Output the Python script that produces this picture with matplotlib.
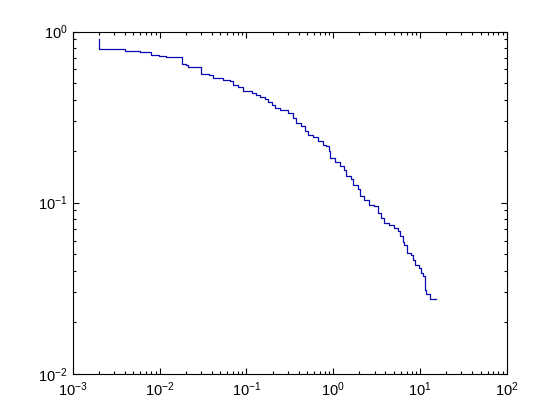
import matplotlib
matplotlib.use("Agg")
import matplotlib.pyplot as plt
from matplotlib.ticker import LogLocator, FixedLocator, NullFormatter

plt.rcParams['font.family'] = ['Liberation Sans', 'DejaVu Sans']
plt.rcParams['mathtext.fontset'] = 'custom'
plt.rcParams['mathtext.rm'] = 'Liberation Sans'
plt.rcParams['mathtext.it'] = 'Liberation Sans'
plt.rcParams['mathtext.bf'] = 'Liberation Sans'

# staircase CCDF values
x_vals = [0.002, 0.002, 0.00398, 0.00591, 0.00791, 0.00977, 0.01175, 0.01792,
          0.02014, 0.0210, 0.0299, 0.0370, 0.0417, 0.0535, 0.0649, 0.0708,
          0.0807, 0.0907, 0.115, 0.129, 0.143, 0.163, 0.178, 0.195, 0.213,
          0.243, 0.302, 0.345, 0.377, 0.431, 0.470, 0.513, 0.585, 0.668,
          0.762, 0.818, 0.893, 0.921, 1.038, 1.184, 1.316, 1.388, 1.613,
          1.682, 1.920, 2.046, 2.291, 2.567, 2.984, 3.255, 3.562, 3.886,
          4.435, 5.060, 5.521, 5.882, 6.30, 6.59, 7.00, 7.86, 8.36, 8.81,
          9.79, 10.24, 10.97, 11.38, 11.69, 12.99, 15.22]
y_vals = [0.898, 0.785, 0.774, 0.754, 0.731, 0.721, 0.705, 0.650,
          0.633, 0.622, 0.568, 0.555, 0.538, 0.524, 0.512, 0.490,
          0.475, 0.448, 0.438, 0.426, 0.417, 0.404, 0.386, 0.371, 0.358,
          0.347, 0.335, 0.313, 0.292, 0.279, 0.261, 0.250, 0.241, 0.228,
          0.218, 0.213, 0.1995, 0.1826, 0.1720, 0.1646, 0.1545, 0.1425, 0.1376,
          0.1274, 0.1202, 0.1088, 0.1034, 0.0973, 0.0951, 0.0871, 0.0814, 0.0761,
          0.0743, 0.0711, 0.0680, 0.0635, 0.0591, 0.0568, 0.0508, 0.0497, 0.0464, 0.0434,
          0.0415, 0.0388, 0.0371, 0.0310, 0.0294, 0.0274, 0.0274]

x_ticks = [1e-3, 1e-2, 1e-1, 1e0, 1e1, 1e2]
x_tick_labels = [r'$10^{-3}$', r'$10^{-2}$', r'$10^{-1}$', r'$10^{0}$', r'$10^{1}$', r'$10^{2}$']
y_ticks = [1e-2, 1e-1, 1e0]
y_tick_labels = [r'$10^{-2}$', r'$10^{-1}$', r'$10^{0}$']

fig = plt.figure(figsize=(5.6, 4.2), dpi=100)
ax = fig.add_axes([0.13, 0.11, 0.775, 0.815])
ax.step(x_vals, y_vals, where='post', color='#0a0ab4', lw=0.9)
ax.set_xscale('log')
ax.set_yscale('log')
ax.set_xlim(1e-3, 1e2)
ax.set_ylim(1e-2, 1e0)
ax.xaxis.set_major_locator(FixedLocator(x_ticks))
ax.yaxis.set_major_locator(FixedLocator(y_ticks))
ax.set_xticklabels(x_tick_labels)
ax.set_yticklabels(y_tick_labels)
ax.xaxis.set_minor_locator(LogLocator(base=10, subs=range(2, 10), numticks=20))
ax.yaxis.set_minor_locator(LogLocator(base=10, subs=range(2, 10), numticks=20))
ax.xaxis.set_minor_formatter(NullFormatter())
ax.yaxis.set_minor_formatter(NullFormatter())
ax.tick_params(which='both', direction='in', top=True, right=True, labelsize=10.5, width=0.8, color='black')
ax.tick_params(which='major', length=4)
ax.tick_params(which='minor', length=2.5)
ax.tick_params(axis='x', pad=5)
for s in ax.spines.values():
    s.set_linewidth(0.8)
fig.savefig('out.png', dpi=100)
